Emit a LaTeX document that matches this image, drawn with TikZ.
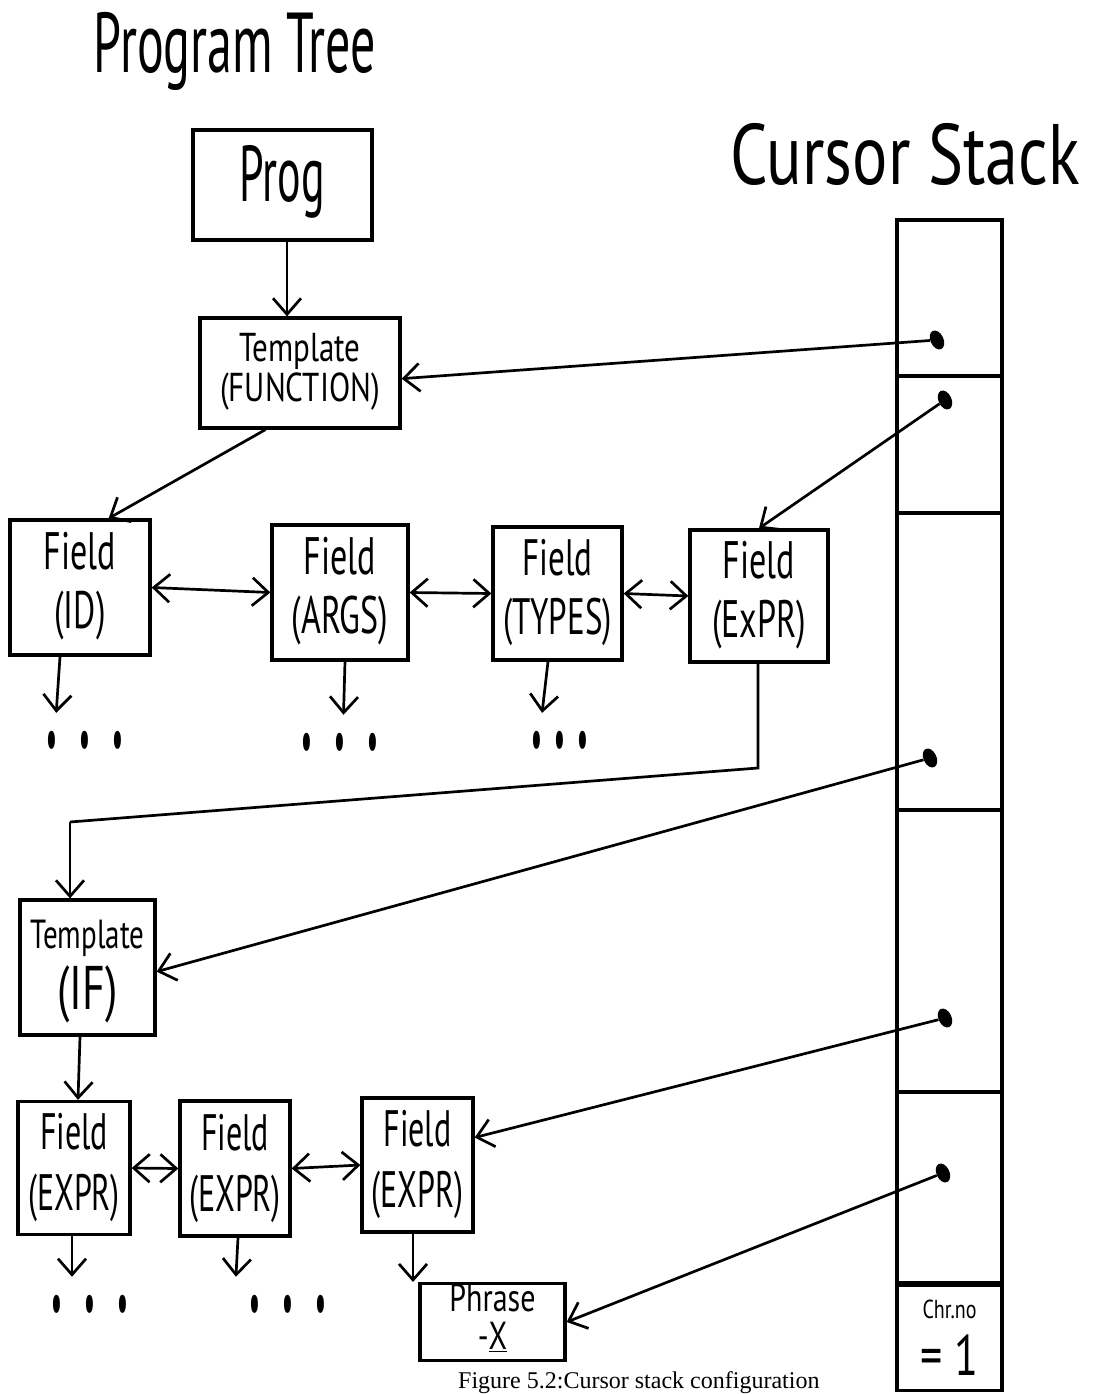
\documentclass[tikz,border=0pt]{standalone}
\usepackage{fontspec}
\setmainfont{PT Sans}
\newfontfamily\capfont{Liberation Serif}
\usetikzlibrary{arrows.meta,shapes.geometric,calc}
\newcommand\hand[4]{\scalebox{1}[#3]{\fontsize{#1}{#2}\selectfont\begin{tabular}{@{}c@{}}#4\end{tabular}}}
\newcommand\fs[2]{{\fontsize{#1}{#1}\selectfont #2}}
\begin{document}
\begin{tikzpicture}[x=1pt,y=-1pt,
  box/.style={draw, line width=3.3pt, inner sep=0pt, align=center},
  cell/.style={draw, line width=3.3pt, inner sep=0pt, minimum width=105pt},
  ptr/.style={ellipse, fill=black, draw=none, minimum width=13pt, minimum height=20pt, inner sep=0pt, rotate=25},
  arr/.style={line width=2.7pt, -{Straight Barb[length=16pt,width=28pt,line width=2.7pt]}},
  dbl/.style={line width=2.7pt, {Straight Barb[length=16pt,width=28pt,line width=2.7pt]}-{Straight Barb[length=16pt,width=28pt,line width=2.7pt]}},
  link/.style={line width=2.7pt},
  more/.style={inner sep=0pt, font=\fontsize{60}{60}\selectfont},
  tomore/.style={arr, shorten >=18pt}
]
\path[use as bounding box, fill=white] (0,0) rectangle (1105,1394);

% titles
\node (t1) at (235,55) {\hand{50}{50}{1.7}{Program Tree}};
\node (t2) at (905,167) {\hand{66}{66}{1.3}{Cursor Stack}};

% program tree
\node[box, minimum width=179pt, minimum height=110pt] (prog) at (282.5,185) {\hand{44}{44}{1.8}{Prog}};
\node[box, minimum width=200pt, minimum height=110pt] (tf) at (300,373) {\hand{31}{30}{1.3}{Template\\(FUNCTION)}};

\node[box, minimum width=140pt, minimum height=135pt] (fid) at (80,587.5) {\hand{34}{38}{1.55}{Field\\(ID)}};
\node[box, minimum width=136pt, minimum height=135pt] (fargs) at (340,592.5) {\hand{34}{38}{1.55}{Field\\(ARGS)}};
\node[box, minimum width=129pt, minimum height=133pt] (ftypes) at (557.5,593.5) {\hand{33}{38}{1.55}{Field\\(TYPES)}};
\node[box, minimum width=138pt, minimum height=132pt] (fexpr) at (759,596) {\hand{34}{38}{1.55}{Field\\(ExPR)}};

\node[more] (m1) at (85,740) {\scalebox{1}[2.6]{.\,\,.\,\,.}};
\node[more] (m2) at (340,742) {\scalebox{1}[2.6]{.\,\,.\,\,.}};
\node[more] (m3) at (560,740) {\scalebox{1}[2.6]{.\,.\,.}};

\node[box, minimum width=135pt, minimum height=135pt] (tif) at (87.5,967.5) {\hand{36}{40}{1.4}{\fs{29}{Template}\\\fs{44}{(IF)}}};

\node[box, minimum width=112pt, minimum height=133pt] (b1) at (74,1168) {\hand{32}{38}{1.6}{Field\\(EXPR)}};
\node[box, minimum width=110pt, minimum height=135pt] (b2) at (235,1168.5) {\hand{32}{38}{1.6}{Field\\(EXPR)}};
\node[box, minimum width=111pt, minimum height=134pt] (b3) at (417.5,1165) {\hand{32}{38}{1.6}{Field\\(EXPR)}};

\node[more] (m4) at (90,1304) {\scalebox{1}[2.6]{.\,\,.\,\,.}};
\node[more] (m5) at (288,1304) {\scalebox{1}[2.6]{.\,\,.\,\,.}};

\node[box, minimum width=145pt, minimum height=70pt] (ph) at (492.5,1322) {\hand{30}{28}{1.3}{Phrase\\-\underline{X}}};

% cursor stack
\node[cell, minimum height=156pt] (s1) at (949.5,298) {};
\node[cell, minimum height=137pt] (s2) at (949.5,444.5) {};
\node[cell, minimum height=297pt] (s3) at (949.5,661.5) {};
\node[cell, minimum height=282pt] (s4) at (949.5,951) {};
\node[cell, minimum height=193pt] (s5) at (949.5,1188.5) {};
\node[cell, minimum height=103pt] (s6) at (949.5,1336.5) {\hand{36}{40}{1.3}{\fs{20}{Chr.no}\\\fs{44}{= 1}}};

\node[ptr] (p1) at (937,340) {};
\node[ptr] (p2) at (945,400) {};
\node[ptr] (p3) at (930,758) {};
\node[ptr] (p4) at (945,1018) {};
\node[ptr] (p5) at (943,1173) {};

% tree connectors
\draw[arr] (prog.south -| 287,0) -- (tf.north -| 287,0);
\draw[arr] ($(tf.south west)!0.33!(tf.south east)$) -- ($(fid.north west)!0.7!(fid.north east)$);
\draw[dbl] (fid.east) -- (fargs.west);
\draw[dbl] (fargs.east) -- (ftypes.west);
\draw[dbl] (ftypes.east) -- (fexpr.west);
\draw[tomore] (fid.south -| 60,0) -- (m1.north -| 55,0) ;
\draw[tomore] (fargs.south -| 345,0) -- (m2.north -| 343,0);
\draw[tomore] (ftypes.south -| 548,0) -- (m3.north -| 540,0);

\coordinate (k1) at (758,768);
\coordinate (k2) at (70,822);
\draw[link] (fexpr.south -| k1) -- (k1) -- (k2);
\draw[arr] (k2) -- (tif.north -| k2);

\draw[arr] (tif.south -| 80,0) -- (b1.north -| 78,0);
\draw[dbl] (b1.east) -- (b2.west);
\draw[dbl] (b2.east) -- (b3.west);
\draw[tomore] (b1.south -| 72,0) -- (m4.north -| 72,0);
\draw[tomore] (b2.south -| 238,0) -- (m5.north -| 235,0);
\draw[arr] (b3.south -| 413,0) -- (ph.north -| 413,0);

% cursor pointers
\draw[arr] (p1) -- ($(tf.north east)!0.55!(tf.south east)$);
\draw[arr] (p2) -- (fexpr.north);
\draw[arr] (p3) -- ($(tif.north east)!0.53!(tif.south east)$);
\draw[arr] (p4) -- ($(b3.north east)!0.3!(b3.south east)$);
\draw[arr] (p5) -- (ph.east);

% caption
\node[anchor=base west, inner sep=0pt, font=\capfont\fontsize{24}{26}\selectfont] (cap) at (458,1388) {Figure 5.2:Cursor stack configuration};
\end{tikzpicture}
\end{document}
